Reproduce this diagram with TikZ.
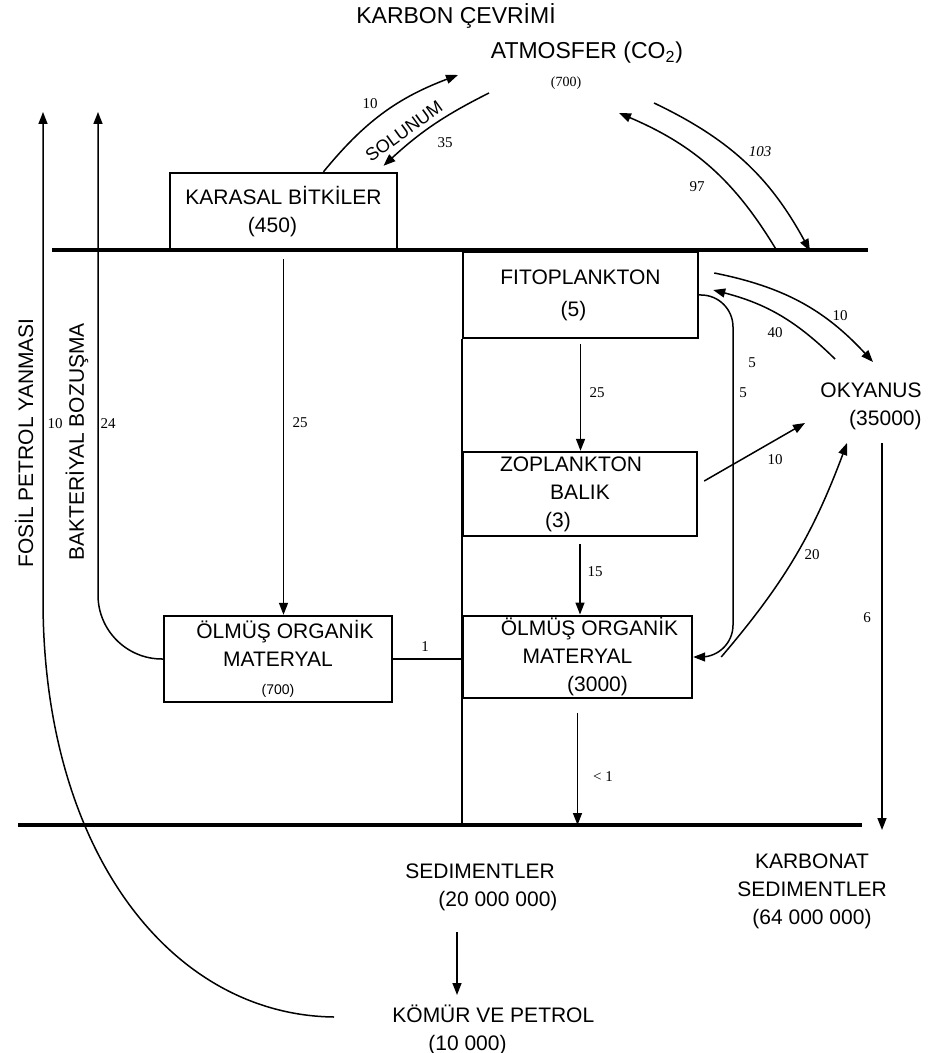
\documentclass[tikz,border=0pt]{standalone}
\usepackage{fontspec}
\setmainfont{Liberation Sans}
\newfontfamily\numfont{Liberation Serif}
\usetikzlibrary{arrows.meta,calc}

\begin{document}
\begin{tikzpicture}[
    x=0.5pt, y=-0.5pt,
    every node/.style={inner sep=1pt},
    box/.style={draw, line width=1.2pt, align=center, font=\fontsize{10.5}{14}\selectfont},
    lbl/.style={font=\fontsize{10.5}{14}\selectfont},
    big/.style={font=\fontsize{11.5}{14}\selectfont},
    num/.style={font=\numfont\fontsize{7.5}{9}\selectfont},
    flow/.style={draw, line width=0.75pt, -{Triangle[length=6pt,width=4.5pt]}},
    ground/.style={draw, line width=1.8pt},
]
\useasboundingbox (0,0) rectangle (929,1053);

\coordinate (g1w) at (52,250);
\coordinate (g1e) at (868,250);
\coordinate (g2w) at (18,825);
\coordinate (g2e) at (862,825);

\node[big] (title) at (456,16) {KARBON ÇEVRİMİ};
\node[big] (atm) at (587,53) {ATMOSFER (CO\textsubscript{2})};
\node[num, font=\numfont\fontsize{7}{8}\selectfont] (atmval) at (566,83) {(700)};

\node[box, minimum width=113.5pt, minimum height=38.5pt] (karasal) at (283.5,211.5)
    {KARASAL BİTKİLER\\(450)\hspace*{11pt}};
\node[box, minimum width=117.5pt, minimum height=43pt] (fito) at (580.5,295)
    {FITOPLANKTON\\[2pt](5)\hspace*{7pt}};
\node[box, minimum width=117pt, minimum height=42pt] (zoo) at (580,494)
    {ZOPLANKTON\hspace*{9pt}\\BALIK\hspace*{28pt}\\(3)\hspace*{22pt}};
\node[box, minimum width=114.5pt, minimum height=40pt] (olmusR) at (577.5,657)
    {\hspace*{12pt}ÖLMÜŞ ORGANİK\\MATERYAL\hspace*{5pt}\\\hspace*{20pt}(3000)};
\node[box, minimum width=114pt, minimum height=43pt] (olmusL) at (278,659)
    {\hspace*{7pt}ÖLMÜŞ ORGANİK\\MATERYAL\hspace*{10pt}\\{\fontsize{7}{8}\selectfont(700)}};

\node[lbl, align=right, anchor=east] (okyanus) at (924,406) {OKYANUS\\(35000)};
\node[lbl, align=left, anchor=west] (sed) at (403,887) {SEDIMENTLER\\\hspace*{16.5pt}(20 000 000)};
\node[lbl, align=left, anchor=north west] (komur) at (390,1003) {KÖMÜR VE PETROL\\\hspace*{18pt}(10 000)};
\node[lbl, align=center] (karbonat) at (812,891) {KARBONAT\\SEDIMENTLER\\(64 000 000)};

\node[lbl, rotate=90] (fosil) at (24,443) {FOSİL PETROL YANMASI};
\node[lbl, rotate=90] (bakteri) at (77,442) {BAKTERİYAL BOZUŞMA};
\node[lbl, rotate=36, font=\fontsize{9}{11}\selectfont] (solunum) at (404,131) {SOLUNUM};

\draw[ground] (g1w) -- (g1e);
\draw[ground] (g2w) -- (g2e);
\draw[line width=1pt] (fito.south west) -- (fito.south west |- g2w);
\draw[line width=0.75pt] (olmusL.east) -- (olmusL.east -| olmusR.west);

\coordinate (solB) at (458,75);
\coordinate (solC) at (489,93);
\coordinate (aoA) at (654,103);
\coordinate (aoB) at (810,251);
\coordinate (oaA) at (777,251);
\coordinate (oaB) at (619,113);
\coordinate (okN1) at (873,362);
\coordinate (okN2) at (835,359);
\coordinate (okW) at (805,423);
\coordinate (okS) at (847,443);
\coordinate (okD) at (882,443);
\coordinate (carbN) at (882,830);
\coordinate (r5) at (733,480);
\coordinate (sedK) at (457,932);
\coordinate (fosA) at (334,1017);
\coordinate (fosT) at (43,112);
\coordinate (bakT) at (98,112);

\draw[flow] ([xshift=20pt]karasal.north) to[bend left=15] (solB);
\draw[flow] (solC) to[bend right=8] ([xshift=50pt,yshift=3pt]karasal.north);
\draw[flow] (aoA) to[bend left=18] (aoB);
\draw[flow] (oaA) to[bend right=18] (oaB);
\draw[flow] ([xshift=7.5pt,yshift=11pt]fito.east) to[bend left=18] (okN1);
\draw[flow] (okN2) to[bend right=15] ([xshift=7pt,yshift=2.5pt]fito.east);
\draw[flow, rounded corners=16pt] (fito.east) -| (r5) |- (olmusR.east);
\draw[flow] ([xshift=3pt,yshift=6.5pt]zoo.east) -- (okW);
\draw[flow] ([xshift=14pt]olmusR.east) to[bend right=10] (okS);
\draw[flow] (okD) -- (carbN);

\draw[flow] ([yshift=-4pt]karasal.south) -- (karasal.south |- olmusL.north);
\draw[flow] ([yshift=-2.5pt]fito.south) -- (fito.south |- zoo.north);
\draw[flow] ([yshift=-3.5pt]zoo.south) -- (zoo.south |- olmusR.north);
\draw[flow] ([yshift=-7pt]olmusR.south) -- (olmusR.south |- g2w);
\draw[flow] (sedK) -- ($(sedK |- komur.north)+(0,-8)$);

\draw[flow] (fosA) .. controls (170,1015) and (43,850) .. (43,600) -- (fosT);
\draw[flow, rounded corners=32pt] (olmusL.west) -| (bakT);

\node[num] (n10s) at (370,104) {10};
\node[num] (n35s) at (445,143) {35};
\node[num, font=\numfont\itshape\fontsize{7.5}{9}\selectfont] (n103) at (760,152) {103};
\node[num] (n97) at (697,187) {97};
\node[num] (n10f) at (840,316) {10};
\node[num] (n40) at (775,333) {40};
\node[num] (n5a) at (752,363) {5};
\node[num] (n5b) at (743,393) {5};
\node[num] (n25f) at (597,393) {25};
\node[num] (n10z) at (775,460) {10};
\node[num] (n20) at (812,555) {20};
\node[num] (n6) at (867,618) {6};
\node[num] (n15) at (595,572) {15};
\node[num] (nlt1) at (603,777) {< 1};
\node[num] (n1) at (425,647) {1};
\node[num] (n25k) at (300,423) {25};
\node[num] (n10fos) at (55,424) {10};
\node[num] (n24) at (108,424) {24};
\end{tikzpicture}
\end{document}
